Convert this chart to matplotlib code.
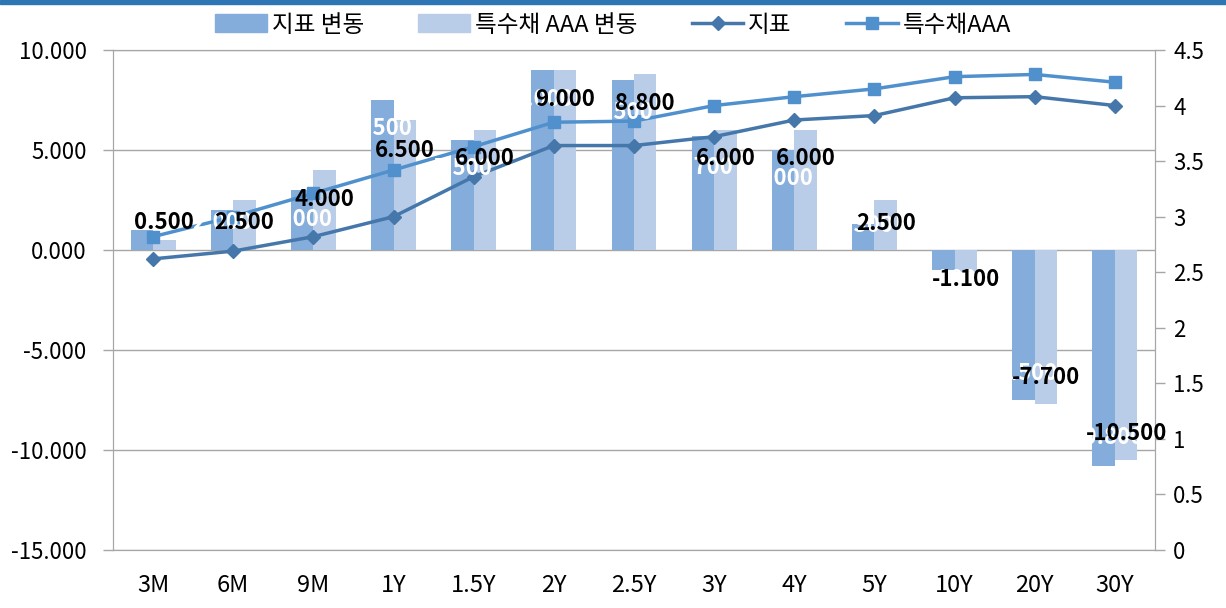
import numpy as np
import matplotlib.pyplot as plt
from matplotlib.patches import Rectangle
from matplotlib.lines import Line2D

plt.rcParams['font.family'] = ['Noto Sans CJK KR', 'DejaVu Sans']

categories = ["3M", "6M", "9M", "1Y", "1.5Y", "2Y", "2.5Y", "3Y", "4Y", "5Y", "10Y", "20Y", "30Y"]
index_chg = [1.0, 2.0, 3.0, 7.5, 5.5, 9.0, 8.5, 5.7, 5.0, 1.3, -1.0, -7.5, -10.8]
special_chg = [0.5, 2.5, 4.0, 6.5, 6.0, 9.0, 8.8, 6.0, 6.0, 2.5, -1.1, -7.7, -10.5]
index_rate = [2.62, 2.69, 2.82, 3.00, 3.36, 3.64, 3.64, 3.72, 3.87, 3.91, 4.07, 4.08, 4.00]
special_rate = [2.82, 3.00, 3.21, 3.42, 3.63, 3.85, 3.86, 4.00, 4.08, 4.15, 4.26, 4.28, 4.21]

# label offsets (pixels, up is positive) from the bar end
index_lbl_dy = [8, -12, -29, -28, -28, -29, -32, -31, -28, -1, -9, 27, 29]
special_lbl_dy = [18, -22, -29, -30, -28, -29, -29, -28, -28, -23, -7, 27, 27]

c_dark = "#84ADDC"
c_light = "#B9CDE9"
c_line1 = "#4677AA"
c_line2 = "#5091CD"
c_grid = "#A6A6A6"

fig = plt.figure(figsize=(12.26, 6.08), dpi=100)
ax = fig.add_axes([113/1226, 58/608, (1155-113)/1226, 500/608])
ax2 = ax.twinx()

x = np.arange(len(categories))
w = 0.28
ax.bar(x - w/2, index_chg, w, color=c_dark, zorder=2, label="지표 변동")
ax.bar(x + w/2, special_chg, w, color=c_light, zorder=2, label="특수채 AAA 변동")

ax.set_ylim(-15, 10)
ax.set_yticks([-15, -10, -5, 0, 5, 10])
ax.set_yticklabels([f"{v:.3f}" for v in [-15, -10, -5, 0, 5, 10]])
ax.set_xlim(-0.5, len(categories) - 0.5)
ax.set_xticks(x)
ax.set_xticklabels(categories, fontsize=17)
ax.yaxis.grid(True, color=c_grid, lw=1, zorder=0)
ax.set_axisbelow(True)

ax2.plot(x, index_rate, color=c_line1, lw=2.5, marker="D", ms=7, label="지표")
ax2.plot(x, special_rate, color=c_line2, lw=2.5, marker="s", ms=9, label="특수채AAA")
ax2.set_ylim(0, 4.5)
ax2.set_yticks(np.arange(0, 4.51, 0.5))
ax2.set_yticklabels(["0", "0.5", "1", "1.5", "2", "2.5", "3", "3.5", "4", "4.5"])

for a in (ax, ax2):
    for s in a.spines.values():
        s.set_color(c_grid)
    a.tick_params(axis="y", colors=c_grid, labelcolor="black", labelsize=16, length=7, width=1, pad=6)
ax.tick_params(axis="x", length=0, pad=17, labelcolor="black")
ax.tick_params(axis="y", pad=12)

# data labels
for i in range(len(categories)):
    ax2.annotate(f"{index_chg[i]:.3f}", xy=(x[i] - w/2, index_chg[i]), xycoords=ax.transData,
                 xytext=(0, index_lbl_dy[i] * 0.72), textcoords="offset points",
                 ha="center", va="center", color="white", fontsize=16, fontweight="bold", zorder=5)
for i in range(len(categories)):
    ax2.annotate(f"{special_chg[i]:.3f}", xy=(x[i] + w/2, special_chg[i]), xycoords=ax.transData,
                 xytext=(0, special_lbl_dy[i] * 0.72), textcoords="offset points",
                 ha="center", va="center", color="black", fontsize=16, fontweight="bold", zorder=6)

handles = [Rectangle((0, 0), 1, 1, color=c_dark), Rectangle((0, 0), 1, 1, color=c_light),
           Line2D([], [], color=c_line1, lw=2.5, marker="D", ms=7),
           Line2D([], [], color=c_line2, lw=2.5, marker="s", ms=9)]
fig.legend(handles, ["지표 변동", "특수채 AAA 변동", "지표", "특수채AAA"], loc="center",
           bbox_to_anchor=(0.5, 1 - 25/608), ncol=4, frameon=False, fontsize=17,
           handlelength=2.2, handleheight=0.8, columnspacing=2.3, handletextpad=0.2)

fig.add_artist(Rectangle((0, 1 - 4/608), 1, 4/608, transform=fig.transFigure, color="#2E75B6"))

fig.savefig("out.png", dpi=100)
